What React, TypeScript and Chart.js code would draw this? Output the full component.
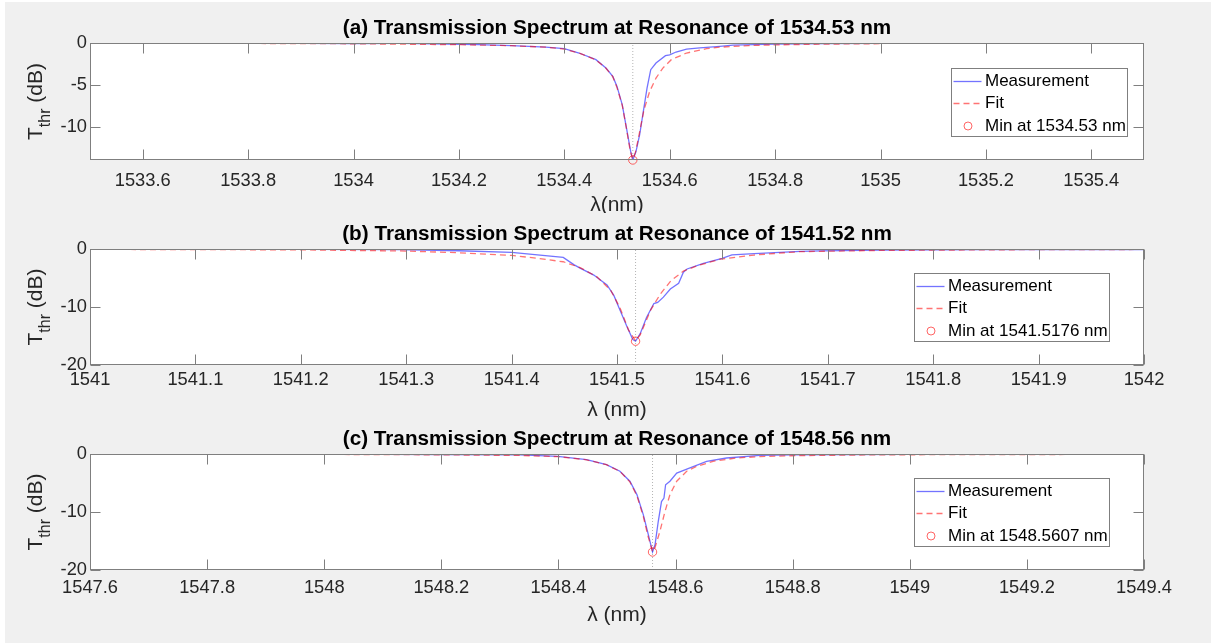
import React, { useEffect, useRef } from "react";
import { Chart, registerables, Plugin } from "chart.js";

Chart.register(...registerables);

type Pt = [number, number];

// ---- (a) resonance near 1534.53 nm: [wavelength nm, transmission dB]
const A_MEASUREMENT: Pt[] = [
  [1533.5, -0.02], [1533.6, -0.03], [1533.7, -0.02], [1533.8, -0.04], [1533.9, -0.05],
  [1534.0, -0.06], [1534.09, -0.05], [1534.15, -0.1], [1534.205, -0.15], [1534.237, -0.2],
  [1534.3, -0.3], [1534.365, -0.48], [1534.4, -0.66], [1534.428, -1.19], [1534.46, -1.98],
  [1534.479, -2.98], [1534.492, -3.97], [1534.5, -5.16], [1534.51, -7.34], [1534.518, -10.1],
  [1534.526, -12.9], [1534.53, -13.9], [1534.536, -12.9], [1534.543, -10.9], [1534.55, -8.13],
  [1534.557, -5.36], [1534.564, -3.17], [1534.574, -2.38], [1534.592, -1.5], [1534.6, -1.4],
  [1534.612, -1.07], [1534.632, -0.72], [1534.657, -0.58], [1534.695, -0.4], [1534.72, -0.26],
  [1534.8, -0.13], [1534.9, -0.08], [1535.0, -0.05],
];
const A_FIT: Pt[] = [
  [1533.5, -0.03], [1533.8, -0.05], [1534.0, -0.09], [1534.2, -0.2], [1534.3, -0.32],
  [1534.365, -0.5], [1534.4, -0.72], [1534.428, -1.2], [1534.46, -2.0], [1534.479, -3.0],
  [1534.492, -4.0], [1534.5, -5.3], [1534.51, -7.4], [1534.518, -10.2], [1534.525, -12.8],
  [1534.53, -13.8], [1534.535, -13.0], [1534.54, -11.5], [1534.545, -9.9], [1534.551, -8.0],
  [1534.562, -5.75], [1534.574, -4.17], [1534.587, -2.98], [1534.603, -1.98], [1534.632, -1.19],
  [1534.67, -0.68], [1534.695, -0.5], [1534.75, -0.3], [1534.8, -0.22], [1534.9, -0.13],
  [1535.0, -0.08],
];
const A_MIN: Pt = [1534.53, -13.9];
const A_X_TICKS = [1533.6, 1533.8, 1534, 1534.2, 1534.4, 1534.6, 1534.8, 1535, 1535.2, 1535.4];
const A_Y_TICKS = [-10, -5, 0];

// ---- (b) resonance near 1541.52 nm
const B_MEASUREMENT: Pt[] = [
  [1541.0, -0.02], [1541.1, -0.04], [1541.2, -0.06], [1541.294, -0.1], [1541.35, -0.3],
  [1541.4, -0.57], [1541.449, -1.45], [1541.459, -2.7], [1541.465, -3.3], [1541.478, -4.5],
  [1541.4905, -6.2], [1541.497, -8.0], [1541.503, -10.6], [1541.5095, -13.4], [1541.515, -15.6],
  [1541.5176, -15.9], [1541.522, -14.6], [1541.528, -11.8], [1541.535, -9.4], [1541.5386, -9.2],
  [1541.544, -8.3], [1541.5506, -6.9], [1541.5585, -5.9], [1541.563, -4.0], [1541.5665, -3.45],
  [1541.582, -2.47], [1541.5997, -1.6], [1541.609, -1.03], [1541.63, -0.78], [1541.674, -0.4],
  [1541.693, -0.34], [1541.75, -0.2], [1541.85, -0.12], [1541.95, -0.1], [1542.0, -0.09],
];
const B_FIT: Pt[] = [
  [1541.0, -0.07], [1541.1, -0.1], [1541.2, -0.15], [1541.3, -0.35], [1541.35, -0.65],
  [1541.4, -1.1], [1541.424, -1.6], [1541.449, -2.2], [1541.465, -3.2], [1541.481, -4.8],
  [1541.494, -7.1], [1541.503, -10.2], [1541.511, -14.0], [1541.5176, -15.8], [1541.522, -14.8],
  [1541.532, -10.5], [1541.541, -7.8], [1541.551, -5.5], [1541.563, -3.8], [1541.576, -2.9],
  [1541.598, -1.75], [1541.63, -1.05], [1541.674, -0.45], [1541.75, -0.25], [1541.85, -0.14],
  [1541.95, -0.09], [1542.0, -0.08],
];
const B_MIN: Pt = [1541.5176, -15.9];
const B_X_TICKS = [1541, 1541.1, 1541.2, 1541.3, 1541.4, 1541.5, 1541.6, 1541.7, 1541.8, 1541.9, 1542];
const B_Y_TICKS = [-20, -10, 0];

// ---- (c) resonance near 1548.56 nm
const C_MEASUREMENT: Pt[] = [
  [1547.76, -0.03], [1547.9, -0.04], [1548.0, -0.05], [1548.1, -0.07], [1548.2, -0.1],
  [1548.3345, -0.15], [1548.399, -0.4], [1548.448, -0.98], [1548.482, -1.84], [1548.505, -2.98],
  [1548.522, -4.7], [1548.534, -7.0], [1548.545, -10.5], [1548.5535, -13.9], [1548.5607, -16.9],
  [1548.565, -15.6], [1548.5705, -11.6], [1548.576, -8.2], [1548.5802, -7.6], [1548.583, -5.3],
  [1548.5904, -4.7], [1548.602, -3.28], [1548.6246, -2.41], [1548.653, -1.26], [1548.687, -0.69],
  [1548.744, -0.23], [1548.8, -0.15], [1548.9, -0.1], [1549.0, -0.08], [1549.1, -0.07],
  [1549.2, -0.07], [1549.357, -0.06],
];
const C_FIT: Pt[] = [
  [1547.76, -0.04], [1548.0, -0.07], [1548.2, -0.14], [1548.3345, -0.25], [1548.399, -0.45],
  [1548.448, -1.0], [1548.482, -1.85], [1548.505, -3.0], [1548.522, -4.8], [1548.534, -7.2],
  [1548.545, -10.8], [1548.553, -14.2], [1548.5607, -16.8], [1548.5648, -16.2], [1548.5734, -13.3],
  [1548.582, -9.9], [1548.5904, -7.0], [1548.602, -4.7], [1548.619, -2.98], [1548.636, -2.13],
  [1548.664, -1.26], [1548.704, -0.69], [1548.744, -0.45], [1548.8, -0.3], [1548.9, -0.18],
  [1549.0, -0.13], [1549.2, -0.09], [1549.357, -0.07],
];
const C_MIN: Pt = [1548.5607, -16.9];
const C_X_TICKS = [1547.6, 1547.8, 1548, 1548.2, 1548.4, 1548.6, 1548.8, 1549, 1549.2, 1549.4];
const C_Y_TICKS = [-20, -10, 0];

const FONT = '"Liberation Sans", Arial, Helvetica, sans-serif';
const BLUE = "rgba(0, 0, 255, 0.55)";
const RED = "rgba(255, 0, 0, 0.55)";
const MARK = "rgba(255, 0, 0, 0.6)";
const AXIS = "#7f7f7f";
const TEXT = "#262626";
const W = 1211;
const PLOT_LEFT = 90;
const PLOT_RIGHT = 1144;

interface Panel {
  title: string;
  xLabel: string;
  minLabel: string;
  measurement: Pt[];
  fit: Pt[];
  minimum: Pt;
  xRange: [number, number];
  yRange: [number, number];
  xTicks: number[];
  yTicks: number[];
  top: number;
  height: number;
  plotTop: number;
  plotBottom: number;
  tickPad: number;
  legendX: number;
  legendDy: number;
}

const PANELS: Panel[] = [
  {
    title: "(a) Transmission Spectrum at Resonance of 1534.53 nm",
    xLabel: "λ(nm)",
    minLabel: "Min at 1534.53 nm",
    measurement: A_MEASUREMENT, fit: A_FIT, minimum: A_MIN,
    xRange: [1533.5, 1535.5], yRange: [-13.9, 0],
    xTicks: A_X_TICKS, yTicks: A_Y_TICKS,
    top: 0, height: 213, plotTop: 43, plotBottom: 160, tickPad: 10,
    legendX: 951, legendDy: 25,
  },
  {
    title: "(b) Transmission Spectrum at Resonance of 1541.52 nm",
    xLabel: "λ (nm)",
    minLabel: "Min at 1541.5176 nm",
    measurement: B_MEASUREMENT, fit: B_FIT, minimum: B_MIN,
    xRange: [1541, 1542], yRange: [-20, 0],
    xTicks: B_X_TICKS, yTicks: B_Y_TICKS,
    top: 213, height: 212, plotTop: 36, plotBottom: 152, tickPad: 4,
    legendX: 914, legendDy: 24,
  },
  {
    title: "(c) Transmission Spectrum at Resonance of 1548.56 nm",
    xLabel: "λ (nm)",
    minLabel: "Min at 1548.5607 nm",
    measurement: C_MEASUREMENT, fit: C_FIT, minimum: C_MIN,
    xRange: [1547.6, 1549.4], yRange: [-20, 0],
    xTicks: C_X_TICKS, yTicks: C_Y_TICKS,
    top: 425, height: 218, plotTop: 29, plotBottom: 145, tickPad: 7,
    legendX: 914, legendDy: 24,
  },
];

const fmt = (v: number) => String(parseFloat(v.toFixed(4)));

function decorations(p: Panel): Plugin {
  return {
    id: "panelDecor",
    beforeDraw(chart) {
      const { ctx, chartArea: a } = chart;
      ctx.save();
      ctx.fillStyle = "#ffffff";
      ctx.fillRect(a.left, a.top, a.right - a.left, a.bottom - a.top);
      ctx.restore();
    },
    afterDraw(chart) {
      const { ctx, chartArea: a } = chart;
      const xs = chart.scales.x;
      const ys = chart.scales.y;
      const L = Math.round(a.left) + 0.5;
      const R = Math.round(a.right) - 0.5;
      const T = Math.round(a.top) + 0.5;
      const B = Math.round(a.bottom) - 0.5;
      ctx.save();

      // axes box with inward ticks on all four sides
      ctx.strokeStyle = AXIS;
      ctx.lineWidth = 1;
      ctx.strokeRect(L, T, R - L, B - T);
      ctx.beginPath();
      for (const v of p.xTicks) {
        const x = Math.round(xs.getPixelForValue(v)) + 0.5;
        ctx.moveTo(x, B); ctx.lineTo(x, B - 10);
        ctx.moveTo(x, T); ctx.lineTo(x, T + 10);
      }
      for (const v of p.yTicks) {
        const y = Math.round(ys.getPixelForValue(v)) + 0.5;
        ctx.moveTo(L, y); ctx.lineTo(L + 10, y);
        ctx.moveTo(R, y); ctx.lineTo(R - 10, y);
      }
      ctx.stroke();

      // title
      const cx = (a.left + a.right) / 2;
      ctx.fillStyle = "#000";
      ctx.font = `bold 20.7px ${FONT}`;
      ctx.textAlign = "center";
      ctx.textBaseline = "middle";
      ctx.fillText(p.title, cx, a.top - 15);

      // x-axis label
      ctx.fillStyle = TEXT;
      ctx.font = `21px ${FONT}`;
      ctx.textBaseline = "alphabetic";
      ctx.fillText(p.xLabel, cx, a.bottom + 51);

      // y-axis label with subscript
      const mainFont = `21px ${FONT}`;
      const subFont = `16px ${FONT}`;
      ctx.font = mainFont;
      const wT = ctx.measureText("T").width;
      const wRest = ctx.measureText(" (dB)").width;
      ctx.font = subFont;
      const wSub = ctx.measureText("thr").width;
      const total = wT + wSub + wRest;
      ctx.translate(41.5, (a.top + a.bottom) / 2);
      ctx.rotate(-Math.PI / 2);
      ctx.textAlign = "left";
      let tx = -total / 2;
      ctx.font = mainFont;
      ctx.fillText("T", tx, 0);
      tx += wT;
      ctx.font = subFont;
      ctx.fillText("thr", tx, 8);
      tx += wSub;
      ctx.font = mainFont;
      ctx.fillText(" (dB)", tx, 0);
      ctx.setTransform(1, 0, 0, 1, 0, 0);

      // legend
      ctx.font = `17px ${FONT}`;
      const labels = ["Measurement", "Fit", p.minLabel];
      const tw = Math.max(...labels.map((s) => ctx.measureText(s).width));
      const bx = Math.round(p.legendX) + 0.5;
      const by = Math.round(a.top + p.legendDy) + 0.5;
      const bw = Math.round(33.5 + tw + 2);
      const bh = 68;
      ctx.fillStyle = "#fff";
      ctx.fillRect(bx, by, bw, bh);
      ctx.strokeStyle = AXIS;
      ctx.strokeRect(bx, by, bw, bh);
      const rows = [13, 35, 57.5].map((d) => by + d);
      ctx.lineWidth = 1.3;
      ctx.strokeStyle = BLUE;
      ctx.beginPath(); ctx.moveTo(bx + 2, rows[0]); ctx.lineTo(bx + 30, rows[0]); ctx.stroke();
      ctx.strokeStyle = RED;
      ctx.setLineDash([6, 4]);
      ctx.beginPath(); ctx.moveTo(bx + 2, rows[1]); ctx.lineTo(bx + 30, rows[1]); ctx.stroke();
      ctx.setLineDash([]);
      ctx.lineWidth = 1;
      ctx.strokeStyle = MARK;
      ctx.beginPath(); ctx.arc(bx + 16.5, rows[2], 4, 0, Math.PI * 2); ctx.stroke();
      ctx.fillStyle = "#000";
      ctx.textBaseline = "middle";
      labels.forEach((s, i) => ctx.fillText(s, bx + 33.5, rows[i]));
      ctx.restore();
    },
  };
}

function PanelChart({ p }: { p: Panel }) {
  const ref = useRef<HTMLCanvasElement | null>(null);
  useEffect(() => {
    const canvas = ref.current;
    if (!canvas) return;
    const toXY = (pts: Pt[]) => pts.map(([x, y]) => ({ x, y }));
    const tickFont = { family: FONT, size: 18.3 };
    const chart = new Chart(canvas, {
      type: "line",
      data: {
        datasets: [
          {
            label: p.minLabel,
            data: [{ x: p.minimum[0], y: p.minimum[1] }],
            showLine: false,
            pointRadius: 4.2,
            pointBorderWidth: 1,
            pointBorderColor: MARK,
            pointBackgroundColor: "rgba(0,0,0,0)",
            clip: false as any,
            order: 0,
          },
          {
            label: "Fit",
            data: toXY(p.fit),
            borderColor: RED,
            borderWidth: 1.3,
            borderDash: [6, 4],
            pointRadius: 0,
            tension: 0,
            order: 1,
          },
          {
            label: "Measurement",
            data: toXY(p.measurement),
            borderColor: BLUE,
            borderWidth: 1.3,
            pointRadius: 0,
            tension: 0,
            order: 2,
          },
          {
            label: "resonance",
            data: [
              { x: p.minimum[0], y: p.yRange[0] },
              { x: p.minimum[0], y: p.yRange[1] },
            ],
            borderColor: "#b4b4b4",
            borderWidth: 1,
            borderDash: [1, 2],
            pointRadius: 0,
            order: 3,
          },
        ],
      },
      options: {
        responsive: false,
        maintainAspectRatio: false,
        animation: false,
        devicePixelRatio: 1,
        layout: { padding: { top: p.plotTop, right: W - PLOT_RIGHT, left: 0, bottom: 0 } },
        plugins: {
          legend: { display: false },
          title: { display: false },
          tooltip: { enabled: false },
        },
        scales: {
          x: {
            type: "linear",
            min: p.xRange[0],
            max: p.xRange[1],
            grid: { display: false, drawTicks: false },
            border: { display: false },
            ticks: {
              autoSkip: false,
              maxRotation: 0,
              minRotation: 0,
              padding: p.tickPad,
              color: TEXT,
              font: tickFont,
              callback: (v: any) => fmt(Number(v)),
            },
            afterBuildTicks: (s: any) => {
              s.ticks = p.xTicks.map((value) => ({ value }));
            },
            afterFit: (s: any) => {
              s.height = p.height - p.plotBottom;
            },
          },
          y: {
            type: "linear",
            position: "left",
            min: p.yRange[0],
            max: p.yRange[1],
            grid: { display: false, drawTicks: false },
            border: { display: false },
            ticks: {
              padding: 3,
              color: TEXT,
              font: tickFont,
              callback: (v: any) => fmt(Number(v)),
            },
            afterBuildTicks: (s: any) => {
              s.ticks = p.yTicks.map((value) => ({ value }));
            },
            afterFit: (s: any) => {
              s.width = PLOT_LEFT;
            },
          },
        },
      },
      plugins: [decorations(p)],
    });
    return () => chart.destroy();
  }, [p]);
  return (
    <canvas
      ref={ref}
      width={W}
      height={p.height}
      style={{ position: "absolute", left: 0, top: p.top, width: W, height: p.height, display: "block" }}
    />
  );
}

export default function App() {
  return (
    <div style={{ position: "fixed", left: 0, top: 0, width: W, height: 643, background: "#ffffff", overflow: "hidden" }}>
      <div style={{ position: "absolute", left: 5, top: 2, right: 0, bottom: 0, background: "#f0f0f0" }} />
      {PANELS.map((p) => (
        <PanelChart key={p.title} p={p} />
      ))}
    </div>
  );
}
